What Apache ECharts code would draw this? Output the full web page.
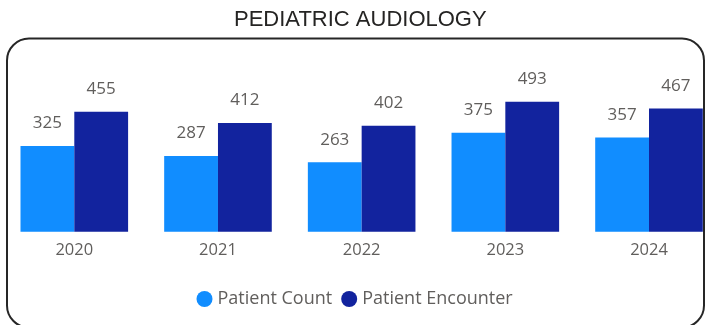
<!DOCTYPE html>
<html>
<head>
<meta charset="utf-8">
<style>
  html, body { margin: 0; padding: 0; background: #ffffff; }
  #chart { width: 705px; height: 325px; }
</style>
<script src="https://cdn.jsdelivr.net/npm/echarts@6/dist/echarts.min.js"></script>
</head>
<body>
<div id="chart"></div>
<script>
// Yearly pediatric audiology volumes
const years = ['2020', '2021', '2022', '2023', '2024'];
const patientCount = [325, 287, 263, 375, 357];
const patientEncounter = [455, 412, 402, 493, 467];
const seriesNames = ['Patient Count', 'Patient Encounter'];

const labelFont = '"Open Sans", "Noto Sans", sans-serif';
const grayText = '#605E5C';

const chart = echarts.init(document.getElementById('chart'), null, { renderer: 'canvas' });

const valueLabel = {
  show: true,
  position: 'top',
  distance: 14,
  color: grayText,
  fontFamily: labelFont,
  fontSize: 17
};

chart.setOption({
  animation: false,
  backgroundColor: '#ffffff',
  title: {
    text: 'PEDIATRIC AUDIOLOGY',
    left: 234,
    top: 8.5,
    padding: 0,
    textStyle: {
      fontFamily: '"Liberation Sans", Arial, sans-serif',
      fontWeight: 'normal',
      fontSize: 22,
      color: '#252423'
    }
  },
  graphic: [{
    type: 'rect',
    shape: { x: 7, y: 38.5, width: 697, height: 289, r: 22 },
    style: { fill: 'none', stroke: '#262626', lineWidth: 2 },
    silent: true,
    z: 0
  }],
  legend: {
    data: seriesNames,
    left: 196.5,
    top: 290,
    padding: 0,
    icon: 'circle',
    itemWidth: 16,
    itemHeight: 16,
    itemGap: 9,
    textStyle: {
      color: grayText,
      fontFamily: labelFont,
      fontSize: 18
    }
  },
  // category ticks sit on the year centres; bars straddle them
  grid: {
    left: 74.3,
    right: 56,
    top: 99.85,
    height: 131.85,
    containLabel: false
  },
  xAxis: {
    type: 'category',
    data: years,
    boundaryGap: false,
    axisLine: { show: false },
    axisTick: { show: false },
    splitLine: { show: false },
    axisLabel: {
      margin: 10,
      color: grayText,
      fontFamily: labelFont,
      fontSize: 16.5
    }
  },
  yAxis: {
    type: 'value',
    min: 0,
    max: 500,
    interval: 100,
    show: false,
    splitLine: { show: false }
  },
  series: [
    {
      name: seriesNames[0],
      type: 'bar',
      data: patientCount,
      barWidth: 53.8,
      barGap: '0%',
      clip: false,
      itemStyle: { color: '#118DFF' },
      label: valueLabel
    },
    {
      name: seriesNames[1],
      type: 'bar',
      data: patientEncounter,
      barWidth: 53.8,
      barGap: '0%',
      clip: false,
      itemStyle: { color: '#12239E' },
      label: valueLabel
    }
  ]
});
</script>
</body>
</html>
